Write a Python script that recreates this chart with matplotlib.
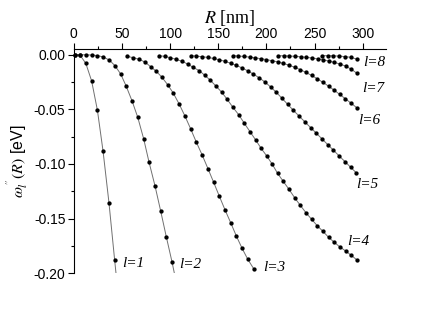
import matplotlib
matplotlib.use("Agg")
import matplotlib.pyplot as plt
from matplotlib.ticker import MultipleLocator

# ---- data (R in nm, omega'' in eV) ----
l1_R = [1.0, 6.5, 12.5, 18.5, 24.5, 30.4, 36.5, 42.4]
l1_w = [0.0, -0.0004, -0.0080, -0.0240, -0.0508, -0.0885, -0.1355, -0.1880]
l1_line_end = (43.8, -0.200)

l2_R = [1.0, 6.5, 12.5, 18.5, 24.5, 30.5, 36.9, 42.8, 48.7, 54.2, 60.4, 66.4,
        72.6, 78.1, 84.3, 90.2, 96.1, 102.0]
l2_w = [0.0, 0.0, -0.0001, -0.0003, -0.0008, -0.0020, -0.0049, -0.0101, -0.0177,
        -0.0284, -0.0421, -0.0573, -0.0772, -0.0983, -0.1200, -0.1431, -0.1669,
        -0.1898]
l2_line_end = (104.4, -0.200)

l3_R = [55.6, 61.8, 67.7, 73.9, 79.8, 85.7, 91.6, 97.5, 103.4, 109.6, 115.5,
        121.4, 127.2, 133.4, 139.4, 145.3, 151.1, 157.0, 163.0, 168.8, 174.7,
        180.6, 186.8]
l3_w = [-0.0015, -0.0027, -0.0042, -0.0067, -0.0110, -0.0152, -0.0207, -0.0275,
        -0.0353, -0.0455, -0.0563, -0.0680, -0.0800, -0.0920, -0.1045, -0.1170,
        -0.1295, -0.1420, -0.1540, -0.1660, -0.1772, -0.1872, -0.1960]

l4_R = [88.5, 94.4, 100.2, 106.1, 112.3, 118.2, 124.0, 130.3, 136.1, 141.6,
        147.6, 153.5, 159.4, 165.3, 171.2, 177.1, 183.0, 188.9, 194.6, 200.2,
        206.2, 211.6, 217.3, 223.5, 229.4, 235.2, 241.1, 247.0, 252.8, 258.7,
        264.6, 270.4, 276.4, 282.3, 288.1, 293.7]
l4_w = [-0.0009, -0.0015, -0.0027, -0.0042, -0.0060, -0.0085, -0.0116, -0.0146,
        -0.0189, -0.0232, -0.0287, -0.0342, -0.0410, -0.0482, -0.0549, -0.0628,
        -0.0705, -0.0781, -0.0858, -0.0925, -0.1004, -0.1086, -0.1157, -0.1233,
        -0.1310, -0.1379, -0.1447, -0.1507, -0.1566, -0.1617, -0.1672, -0.1717,
        -0.1761, -0.1797, -0.1837, -0.1877]

l5_R = [121.4, 127.3, 133.3, 139.2, 145.1, 151.1, 157.0, 162.9, 168.8, 174.8,
        180.7, 186.6, 192.6, 198.5, 204.4, 210.4, 216.3, 222.2, 228.1, 234.1,
        240.0, 245.9, 251.9, 257.8, 263.7, 269.7, 275.6, 281.5, 287.5, 293.4]
l5_w = [-0.0009, -0.0013, -0.0018, -0.0025, -0.0034, -0.0046, -0.0061, -0.0078,
        -0.0098, -0.0121, -0.0148, -0.0178, -0.0212, -0.0250, -0.0295, -0.0345,
        -0.0400, -0.0455, -0.0510, -0.0563, -0.0615, -0.0667, -0.0719, -0.0771,
        -0.0823, -0.0875, -0.0927, -0.0978, -0.1030, -0.1082]

l6_R = [165.0, 170.9, 176.8, 182.6, 188.4, 194.3, 200.1, 206.0, 211.8, 217.7,
        223.6, 229.4, 235.3, 241.1, 247.0, 252.8, 258.7, 264.6, 270.4, 276.3,
        282.1, 288.0, 293.8]
l6_w = [-0.0009, -0.0012, -0.0016, -0.0022, -0.0029, -0.0036, -0.0045, -0.0055,
        -0.0066, -0.0080, -0.0096, -0.0115, -0.0137, -0.0162, -0.0190, -0.0220,
        -0.0253, -0.0288, -0.0325, -0.0364, -0.0404, -0.0444, -0.0485]

l7_R = [212.4, 218.2, 224.0, 229.8, 235.6, 241.5, 247.3, 253.1, 258.9, 264.7,
        270.5, 276.4, 282.2, 288.0, 293.8]
l7_w = [-0.0009, -0.0010, -0.0012, -0.0015, -0.0019, -0.0024, -0.0030, -0.0038,
        -0.0047, -0.0058, -0.0070, -0.0085, -0.0104, -0.0132, -0.0168]

l8_R = [257.4, 263.5, 269.5, 275.6, 281.7, 287.7, 293.8]
l8_w = [-0.0008, -0.0009, -0.0010, -0.0013, -0.0017, -0.0024, -0.0040]

labels = ["l=1", "l=2", "l=3", "l=4", "l=5", "l=6", "l=7", "l=8"]
label_pos = [(50.0, -0.191), (109.3, -0.192), (196.8, -0.195), (284.4, -0.1706),
             (293.0, -0.1193), (295.4, -0.0598), (299.0, -0.0308), (300.6, -0.0070)]

x_ticks = [0, 50, 100, 150, 200, 250, 300]
y_ticks = [0.00, -0.05, -0.10, -0.15, -0.20]
y_ticklabels = ["0.00", "-0.05", "-0.10", "-0.15", "-0.20"]

# ---- figure ----
plt.rcParams['mathtext.fontset'] = 'stix'
plt.rcParams['axes.unicode_minus'] = False
fig = plt.figure(figsize=(4.23, 3.27), dpi=100)
ax = fig.add_axes([0.1745, 0.1648, 0.912 - 0.1745, 0.850 - 0.1648])

series = [(l1_R, l1_w, l1_line_end), (l2_R, l2_w, l2_line_end),
          (l3_R, l3_w, None), (l4_R, l4_w, None), (l5_R, l5_w, None),
          (l6_R, l6_w, None), (l7_R, l7_w, None), (l8_R, l8_w, None)]
for R, w, end in series:
    lx = list(R) + ([end[0]] if end else [])
    ly = list(w) + ([end[1]] if end else [])
    ax.plot(lx, ly, color='#707070', lw=0.7, zorder=2, clip_on=True)
    ax.plot(R, w, 'o', color='black', ms=3.1, mew=0, zorder=3, clip_on=False)

for txt, (x, y) in zip(labels, label_pos):
    ax.text(x, y, txt, fontsize=11, fontstyle='italic', family='Liberation Serif',
            ha='left', va='center', clip_on=False)

ax.set_xlim(0, 324)
ax.set_ylim(-0.2, 0.0052)
ax.xaxis.set_ticks_position('top')
ax.xaxis.set_label_position('top')
ax.spines['bottom'].set_visible(False)
ax.spines['right'].set_visible(False)
ax.set_xticks(x_ticks)
ax.set_xticklabels([str(v) for v in x_ticks], family='Liberation Sans')
ax.set_yticks(y_ticks)
ax.set_yticklabels(y_ticklabels, family='Liberation Sans')
ax.xaxis.set_minor_locator(MultipleLocator(25))
ax.yaxis.set_minor_locator(MultipleLocator(0.025))
ax.tick_params(which='major', direction='out', length=4, width=0.8,
               labelsize=10, pad=2)
ax.tick_params(which='minor', direction='out', length=2.5, width=0.8)

ax.set_xlabel(r'$R$ [nm]', family='Liberation Serif', fontsize=13, labelpad=3)
ax.set_ylabel(r"$\omega_l^{\,''}(R)$ [eV]", family='Liberation Sans', fontsize=11.5,
              labelpad=2)

fig.savefig('out.png', dpi=100)
